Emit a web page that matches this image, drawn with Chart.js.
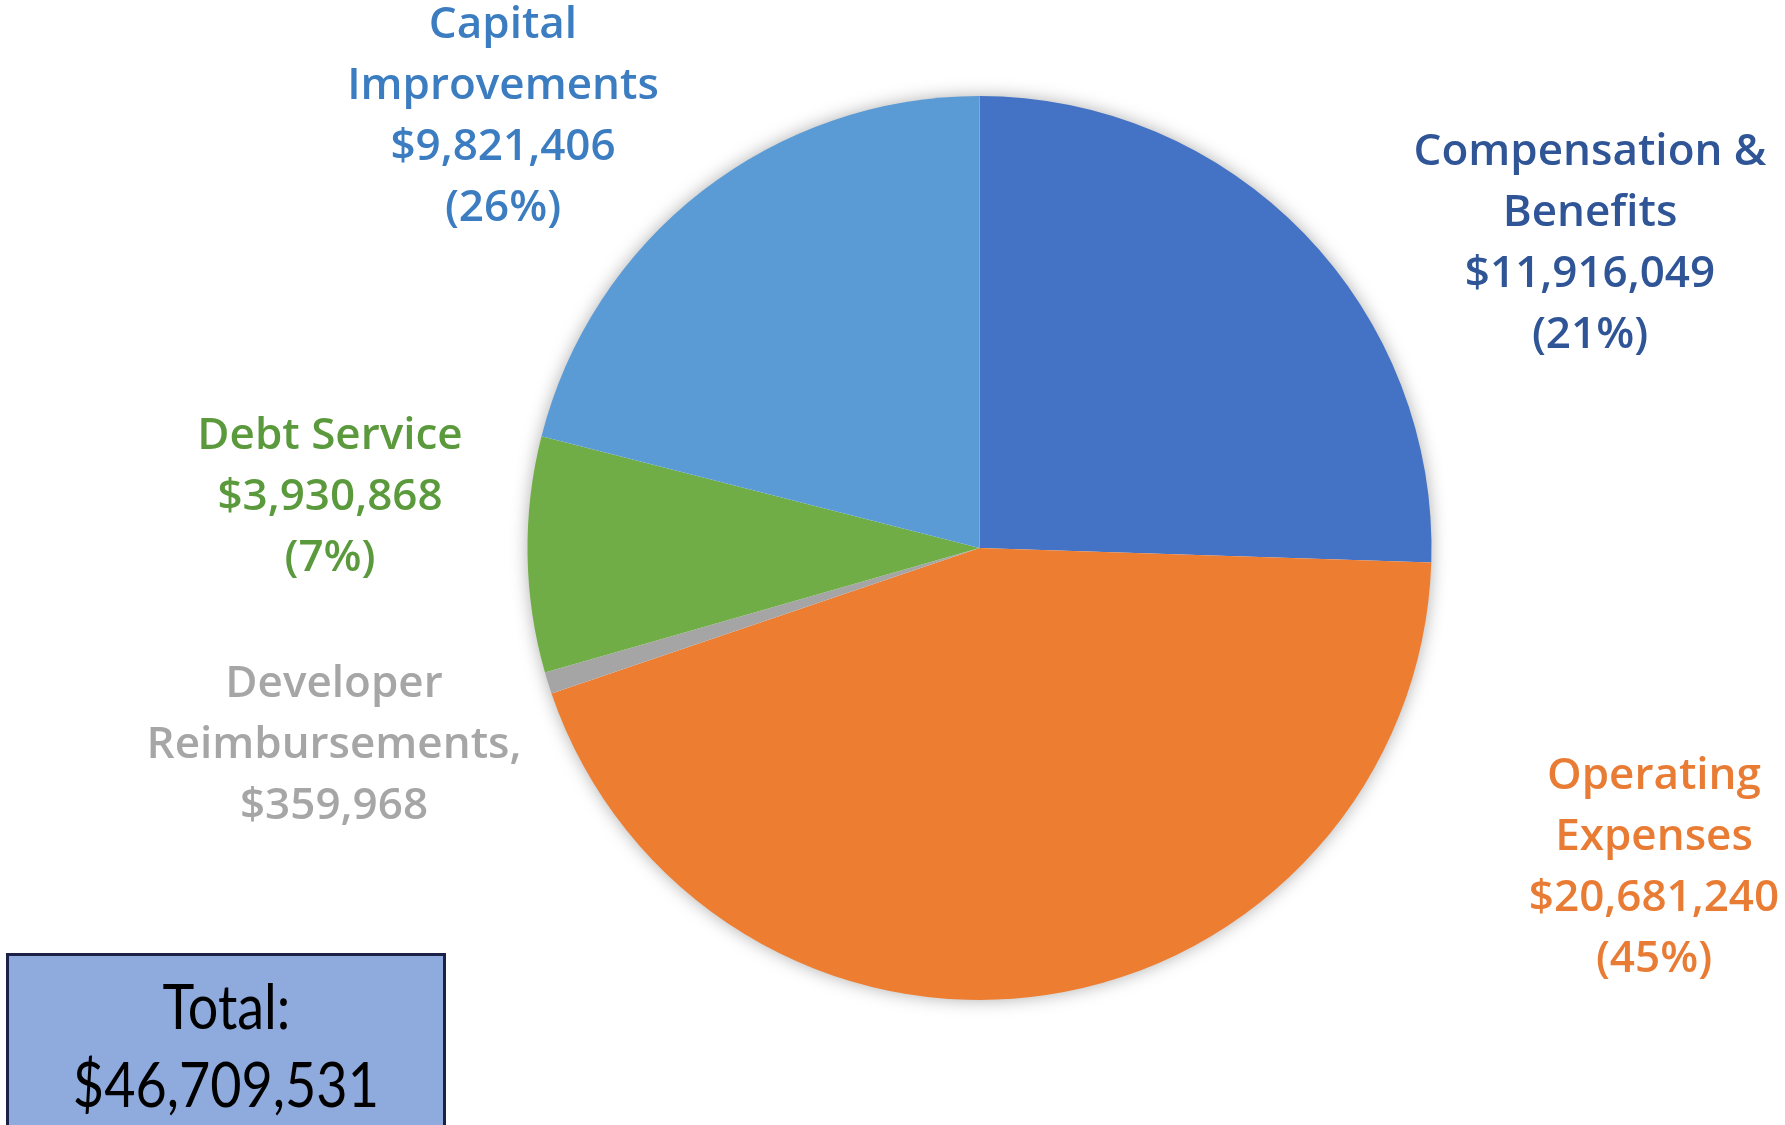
<!DOCTYPE html>
<html>
<head>
<meta charset="utf-8">
<script src="https://cdn.jsdelivr.net/npm/chart.js@4"></script>
<style>
  body { margin: 0; background: #fff; }
  #wrap { position: relative; width: 1785px; height: 1125px; }
  #total {
    position: absolute; left: 6px; top: 953px; width: 440px; height: 180px;
    background: #8faadc; border: 3px solid #1b2147; box-sizing: border-box;
    font-family: Lato, "Open Sans", sans-serif; font-size: 62px; color: #000;
    text-align: center; line-height: 78px; padding-top: 10px;
  }
  #total span { display: inline-block; transform: scaleX(0.87); }
</style>
</head>
<body>
<div id="wrap">
  <canvas id="pieChart"></canvas>
  <div id="total"><span>Total:</span><br><span id="totalValue"></span></div>
</div>
<script>
// Spending categories, clockwise from 12 o'clock
const categories = ["Compensation & Benefits", "Operating Expenses", "Developer Reimbursements", "Debt Service", "Capital Improvements"];
const labelLines = [["Compensation &", "Benefits"], ["Operating", "Expenses"], ["Developer", "Reimbursements,"], ["Debt Service"], ["Capital", "Improvements"]];
const amounts = [11916049, 20681240, 359968, 3930868, 9821406];
const pctText = ["(21%)", "(45%)", "", "(7%)", "(26%)"];

const sliceColors = ["#4472c4", "#ed7d31", "#a5a5a5", "#70ad47", "#5b9bd5"];
const textColors = ["#2f5597", "#e97c35", "#a6a6a6", "#5b9a3c", "#3b7dc0"];
// label block: centre x, first baseline y
const labelAnchor = [[1590, 165], [1654, 789], [334, 697], [330, 449], [503, 38]];
const lineGap = 61;

const money = v => "$" + v.toLocaleString("en-US");
const total = amounts.reduce((a, b) => a + b, 0);
document.getElementById("totalValue").textContent = money(total);

const pieShadow = {
  id: "pieShadow",
  beforeDatasetsDraw(chart) {
    const arc = chart.getDatasetMeta(0).data[0];
    if (!arc) return;
    const ctx = chart.ctx;
    ctx.save();
    ctx.shadowColor = "rgba(0,0,0,0.35)";
    ctx.shadowBlur = 18;
    ctx.fillStyle = "#fff";
    ctx.beginPath();
    ctx.arc(arc.x, arc.y, arc.outerRadius - 1, 0, Math.PI * 2);
    ctx.fill();
    ctx.restore();
  }
};

const sliceLabels = {
  id: "sliceLabels",
  afterDraw(chart) {
    const ctx = chart.ctx;
    ctx.save();
    ctx.font = "600 44px 'Open Sans', 'Noto Sans', sans-serif";
    ctx.textAlign = "center";
    ctx.textBaseline = "alphabetic";
    amounts.forEach((v, i) => {
      const lines = labelLines[i].concat([money(v)]);
      if (pctText[i]) lines.push(pctText[i]);
      const [x, y] = labelAnchor[i];
      ctx.fillStyle = textColors[i];
      lines.forEach((t, j) => ctx.fillText(t, x, y + j * lineGap));
    });
    ctx.restore();
  }
};

new Chart(document.getElementById("pieChart"), {
  type: "pie",
  data: {
    labels: categories,
    datasets: [{
      data: amounts,
      backgroundColor: sliceColors,
      borderWidth: 0
    }]
  },
  options: {
    responsive: true,
    maintainAspectRatio: false,
    animation: false,
    layout: { padding: { left: 527, right: 353, top: 96, bottom: 125 } },
    plugins: {
      legend: { display: false },
      tooltip: { enabled: false }
    }
  },
  plugins: [pieShadow, sliceLabels]
});
</script>
</body>
</html>
